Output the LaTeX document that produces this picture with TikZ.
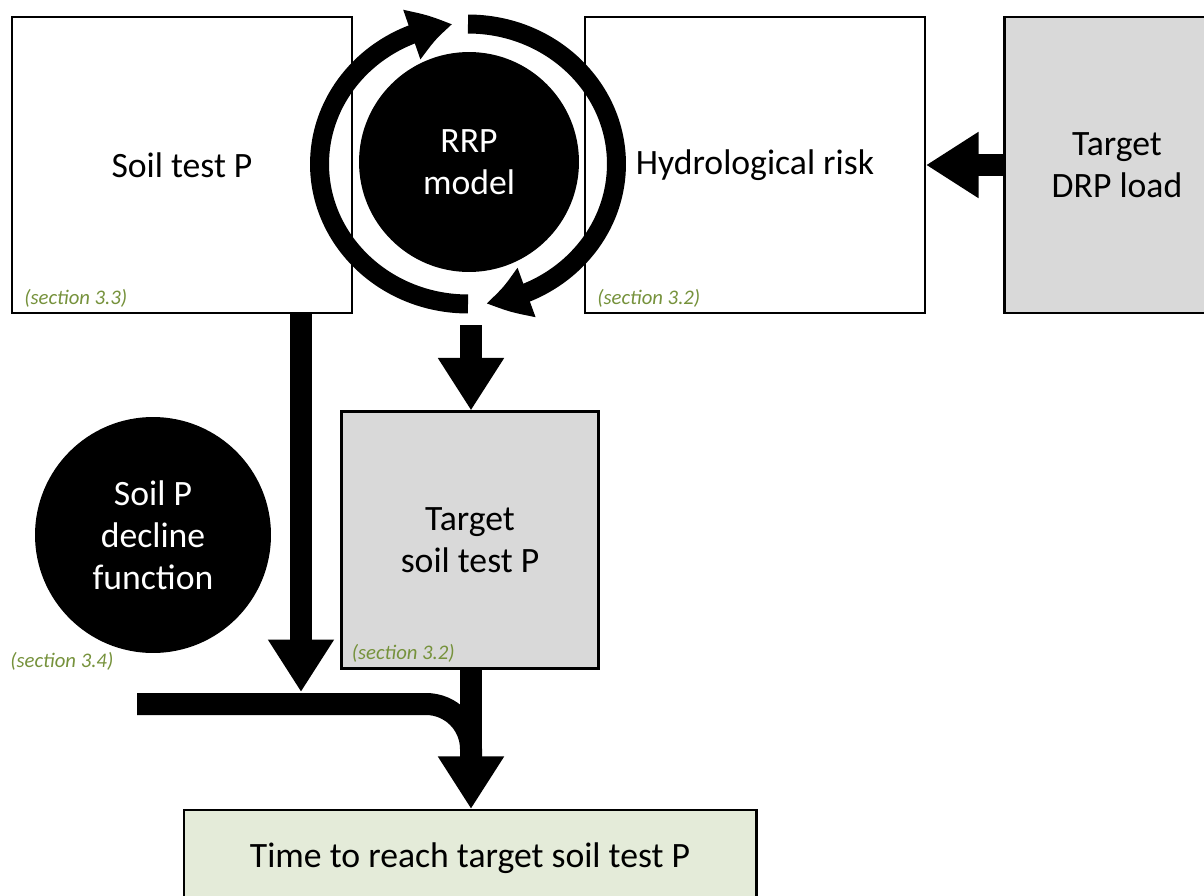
\documentclass[tikz,border=0pt]{standalone}
\usepackage{fontspec}
\setmainfont{Carlito}
\usetikzlibrary{arrows.meta,bending,calc}

\definecolor{secgreen}{RGB}{118,146,60}
\definecolor{boxgray}{RGB}{217,217,217}
\definecolor{boxgreen}{RGB}{228,235,217}

\begin{document}
\begin{tikzpicture}[x=0.02cm,y=-0.02cm,
		box/.style={draw,line width=1.2pt,fill=#1,align=center,inner sep=0pt,font=\fontsize{20.3}{24}\selectfont},
		blob/.style={circle,fill=black,text=white,minimum size=#1,align=center,inner sep=0pt,font=\fontsize{20.3}{24}\selectfont},
		seclabel/.style={anchor=west,inner sep=0pt,text=secgreen,font=\fontsize{11.8}{13}\selectfont\itshape},
		fat/.style={line width=0.44cm,-{Triangle[width=1.25cm,length=1.05cm]}},
		shaft/.style={line width=0.44cm},
		ringarrow/.style={line width=0.38cm,-{Triangle[width=0.98cm,length=0.85cm,bend]}},
]

\def\ringRx{2.97cm}
\def\ringRy{2.8cm}

\useasboundingbox (0,0) rectangle (1204,896);

% boxes
\node [box=white,minimum width=6.8cm,minimum height=5.92cm] (soil) at (182,165) {Soil test P};
\node [box=white,minimum width=6.8cm,minimum height=5.92cm] (hydro) at (755,165) {Hydrological risk};
\node [box=boxgray,minimum width=4.5cm,minimum height=5.92cm] (drp) at (1117,165) {Target\\DRP load};
\node [box=boxgray,minimum width=5.14cm,minimum height=5.14cm] (tsoil) at (470,540) {Target\\soil test P};
\node [box=boxgreen,minimum width=11.46cm,minimum height=1.92cm] (time) at (470,858) {Time to reach target soil test P};

\node [seclabel] (sec33) at ($(soil.south west)+(13,-16)$) {(section 3.3)};
\node [seclabel] (sec32a) at ($(hydro.south west)+(13,-16)$) {(section 3.2)};
\node [seclabel] (sec32b) at ($(tsoil.south west)+(11,-16)$) {(section 3.2)};

% models
\node [blob=4.72cm] (decline) at (153,535) {Soil P\\decline\\function};
\node [seclabel] (sec34) at (10,661) {(section 3.4)};
\node [blob=4.4cm] (rrp) at (469,162) {RRP\\model};

\coordinate (ring) at (468,164);
\draw [ringarrow] ($(ring)+(0cm,-\ringRy)$) arc [start angle=270, end angle=96, x radius=\ringRx, y radius=\ringRy];
\draw [ringarrow] ($(ring)+(0cm,\ringRy)$) arc [start angle=90, end angle=-83, x radius=\ringRx, y radius=\ringRy];

% connectors
\coordinate (soilout) at (301,313);
\coordinate (meet) at (301,692);
\coordinate (rrpout) at (471,325);
\coordinate (barstart) at (137,704);
\coordinate (barturn) at (471,704);
\coordinate (joint) at (471,760);

\draw [fat] (drp.west) -- (hydro.east);
\draw [fat] (rrpout) -- (rrpout |- tsoil.north);
\draw [fat] (soilout) -- (meet);
\draw [shaft] (tsoil.south -| joint) -- (joint);
\draw [fat,rounded corners=0.9cm] (barstart) -- (barturn) -- (barturn |- time.north);

\end{tikzpicture}
\end{document}
